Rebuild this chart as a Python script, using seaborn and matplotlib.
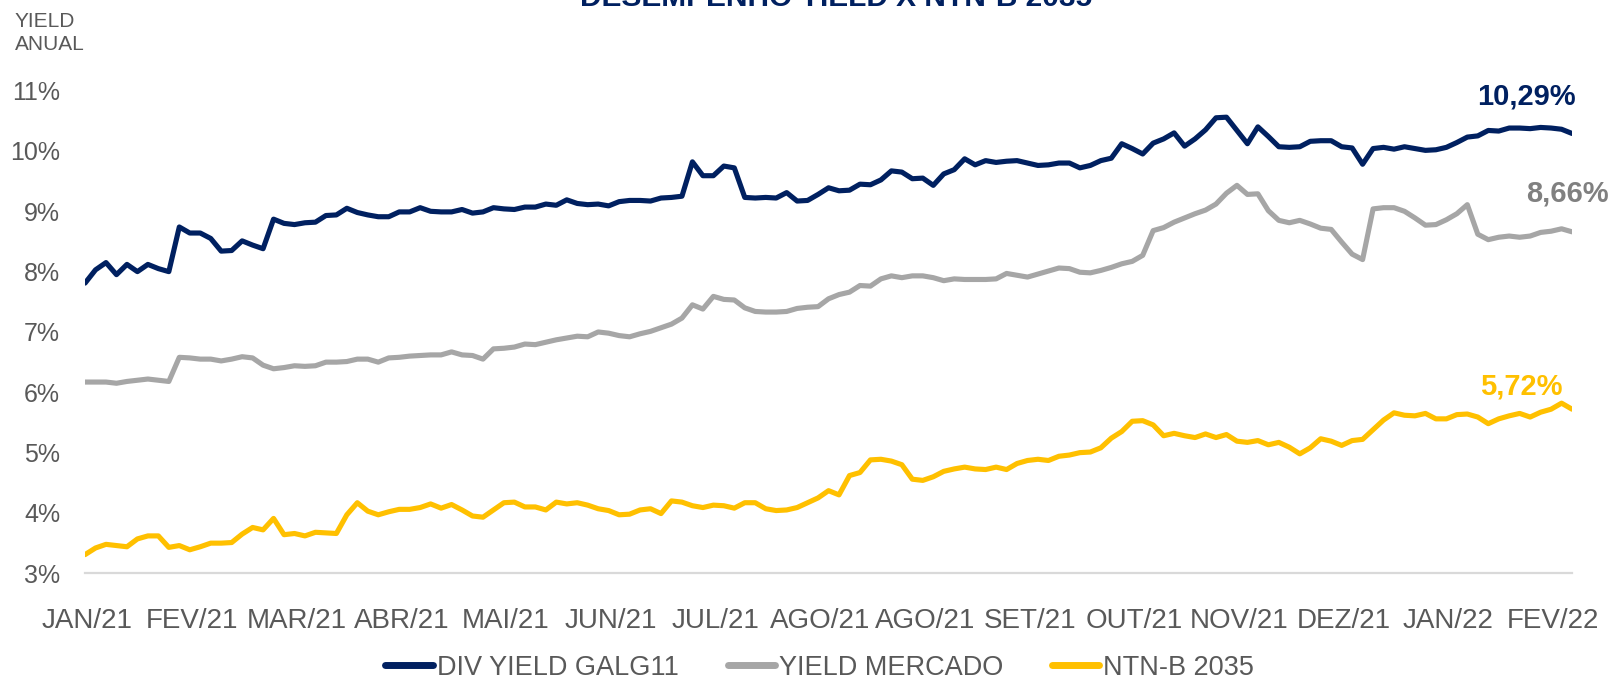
import numpy as np
import pandas as pd
import matplotlib
matplotlib.use("Agg")
import matplotlib.pyplot as plt
from matplotlib import font_manager
import seaborn as sns

# ---------------- data ----------------
months = ["JAN/21", "FEV/21", "MAR/21", "ABR/21", "MAI/21", "JUN/21", "JUL/21",
          "AGO/21", "AGO/21", "SET/21", "OUT/21", "NOV/21", "DEZ/21", "JAN/22", "FEV/22"]

series_names = ["DIV YIELD GALG11", "YIELD MERCADO", "NTN-B 2035"]

div_yield = [7.81, 8.03, 8.15, 7.95, 8.12, 8.00, 8.12, 8.05, 8.00, 8.74,
             8.64, 8.64, 8.55, 8.34, 8.35, 8.51, 8.44, 8.38, 8.87, 8.80,
             8.78, 8.81, 8.82, 8.93,
             8.94, 9.05, 8.98, 8.94, 8.91, 8.91, 8.99, 8.99, 9.06, 9.00,
             8.99, 8.99, 9.03, 8.97, 8.99, 9.06, 9.04, 9.03, 9.07, 9.07,
             9.12, 9.10, 9.19, 9.13,
             9.11, 9.12, 9.09, 9.16, 9.18, 9.18, 9.17, 9.22, 9.23, 9.25,
             9.82, 9.59, 9.59, 9.75, 9.72, 9.23, 9.22, 9.23, 9.22, 9.31,
             9.17, 9.18, 9.28, 9.39,
             9.34, 9.35, 9.45, 9.44, 9.52, 9.67, 9.65, 9.54, 9.55, 9.43,
             9.62, 9.69, 9.87, 9.77, 9.84, 9.81, 9.83, 9.84, 9.80, 9.76,
             9.77, 9.80, 9.80, 9.72,
             9.76, 9.84, 9.88, 10.12, 10.04, 9.95, 10.13, 10.20, 10.30, 10.08,
             10.20, 10.35, 10.55, 10.56, 10.34, 10.12, 10.40, 10.24, 10.07, 10.06,
             10.07, 10.16, 10.17,
             10.17, 10.07, 10.05, 9.78, 10.04, 10.06, 10.03, 10.07, 10.04, 10.01,
             10.02, 10.06, 10.14, 10.23, 10.25, 10.34, 10.33, 10.38, 10.38, 10.37,
             10.39, 10.38, 10.36, 10.29]

yield_mercado = [6.17, 6.17, 6.17, 6.15, 6.18, 6.20, 6.22, 6.20, 6.18, 6.58,
                 6.57, 6.55, 6.55, 6.52, 6.55, 6.59, 6.57, 6.45, 6.39, 6.41,
                 6.44, 6.43, 6.44, 6.50,
                 6.50, 6.51, 6.55, 6.55, 6.50, 6.57, 6.58, 6.60, 6.61, 6.62,
                 6.62, 6.67, 6.62, 6.61, 6.55, 6.72, 6.73, 6.75, 6.80, 6.79,
                 6.83, 6.87, 6.90, 6.93,
                 6.92, 7.00, 6.98, 6.94, 6.92, 6.97, 7.01, 7.07, 7.13, 7.23,
                 7.45, 7.38, 7.59, 7.54, 7.53, 7.40, 7.34, 7.33, 7.33, 7.34,
                 7.39, 7.41, 7.42, 7.55,
                 7.62, 7.66, 7.77, 7.76, 7.88, 7.93, 7.90, 7.93, 7.93, 7.90,
                 7.85, 7.88, 7.87, 7.87, 7.87, 7.88, 7.97, 7.94, 7.91, 7.96,
                 8.01, 8.06, 8.05, 7.99,
                 7.98, 8.02, 8.07, 8.13, 8.17, 8.27, 8.68, 8.73, 8.82, 8.89,
                 8.96, 9.02, 9.12, 9.30, 9.43, 9.28, 9.29, 9.01, 8.85, 8.81,
                 8.85, 8.79, 8.72,
                 8.70, 8.49, 8.29, 8.20, 9.04, 9.06, 9.06, 9.00, 8.89, 8.77,
                 8.78, 8.86, 8.96, 9.11, 8.62, 8.53, 8.57, 8.59, 8.57, 8.59,
                 8.65, 8.67, 8.71, 8.66]

ntnb_2035 = [3.31, 3.42, 3.48, 3.46, 3.44, 3.57, 3.62, 3.62, 3.43, 3.46,
             3.39, 3.44, 3.50, 3.50, 3.51, 3.65, 3.76, 3.72, 3.91, 3.64,
             3.66, 3.62, 3.68, 3.67,
             3.66, 3.97, 4.17, 4.03, 3.97, 4.02, 4.06, 4.06, 4.09, 4.15,
             4.08, 4.14, 4.05, 3.95, 3.93, 4.05, 4.17, 4.18, 4.10, 4.10,
             4.05, 4.18, 4.15, 4.17,
             4.13, 4.07, 4.04, 3.97, 3.98, 4.05, 4.07, 3.99, 4.20, 4.18,
             4.12, 4.09, 4.13, 4.12, 4.08, 4.17, 4.17, 4.07, 4.04, 4.05,
             4.09, 4.17, 4.25, 4.37,
             4.30, 4.62, 4.67, 4.88, 4.89, 4.86, 4.80, 4.56, 4.54, 4.60,
             4.69, 4.73, 4.76, 4.73, 4.72, 4.76, 4.72, 4.82, 4.87, 4.89,
             4.87, 4.94, 4.96, 5.00,
             5.01, 5.08, 5.24, 5.35, 5.52, 5.53, 5.46, 5.28, 5.32, 5.28,
             5.25, 5.31, 5.25, 5.30, 5.19, 5.17, 5.20, 5.13, 5.17, 5.09,
             4.98, 5.08, 5.23,
             5.19, 5.12, 5.20, 5.22, 5.38, 5.54, 5.66, 5.62, 5.61, 5.65,
             5.56, 5.56, 5.63, 5.64, 5.59, 5.48, 5.56, 5.61, 5.65, 5.59,
             5.67, 5.72, 5.82, 5.72]

end_labels = ["10,29%", "8,66%", "5,72%"]
y_ticks = [3, 4, 5, 6, 7, 8, 9, 10, 11]

# ---------------- style ----------------
NAVY = "#002060"
GRAY = "#A6A6A6"
YELLOW = "#FFC000"
TXT = "#595959"
palette = {series_names[0]: NAVY, series_names[1]: GRAY, series_names[2]: YELLOW}

sns.set_theme(style="white")
names = {f.name for f in font_manager.fontManager.ttflist}
narrow = "Liberation Sans Narrow" in names
base_font = "Liberation Sans Narrow" if narrow else "Liberation Sans"
plt.rcParams["font.family"] = [base_font, "DejaVu Sans"]
k = 1 / 0.82 if narrow else 1.0

n = len(div_yield)
df = pd.DataFrame({
    "idx": np.tile(np.arange(n), 3),
    "value": np.concatenate([div_yield, yield_mercado, ntnb_2035]),
    "serie": np.repeat(series_names, n),
})

fig = plt.figure(figsize=(16.14, 6.83), dpi=100)
ax = fig.add_axes([0.0527, 0.1606, 0.974 - 0.0527, 0.8673 - 0.1606])

sns.lineplot(data=df, x="idx", y="value", hue="serie", hue_order=series_names,
             palette=palette, linewidth=3.7, ax=ax, errorbar=None, legend=False)

ax.set_xlim(0, n - 1)
ax.set_ylim(3, 11)
ax.set_xlabel("")
ax.set_ylabel("")

ax.set_xticks(np.arange(len(months)) * 10 + 0.2)
ax.set_xticklabels(months)
ax.set_yticks(y_ticks)
ax.set_yticklabels([f"{v}%" for v in y_ticks])
ax.tick_params(axis="x", length=0, pad=25, labelsize=20 * k, labelcolor=TXT)
ax.tick_params(axis="y", length=0, pad=18, labelsize=18 * k, labelcolor=TXT)
ax.grid(False)

for s in ["top", "right", "left"]:
    ax.spines[s].set_visible(False)
ax.spines["bottom"].set_color("#D9D9D9")
ax.spines["bottom"].set_linewidth(1.6)

# end-of-series labels
bold = ["Liberation Sans", "DejaVu Sans"]
last = [div_yield[-1], yield_mercado[-1], ntnb_2035[-1]]
label_colors = [NAVY, "#808080", YELLOW]
dx = [-4.4, -0.4, -4.8]
dy = [0.62, 0.63, 0.38]
for lab, val, c, ox, oy in zip(end_labels, last, label_colors, dx, dy):
    ax.text(n - 1 + ox, val + oy, lab, color=c, fontsize=21, fontweight="bold",
            family=bold, ha="center", va="center", clip_on=False)

# axis title and chart title
fig.text(15 / 1614, 1 - 33 / 683, "YIELD\nANUAL", color=TXT, fontsize=15 * k,
         ha="left", va="center", linespacing=1.3)
fig.text(836 / 1614, 1 - 6 / 683, "DESEMPENHO YIELD X NTN-B 2035", color=NAVY,
         fontsize=21.5, fontweight="bold", family=bold, ha="center", va="baseline")

# legend
handles = ax.get_lines()[:3]
leg = fig.legend(handles, series_names, loc="center", bbox_to_anchor=(0.508, 0.022),
                 ncol=3, frameon=False, fontsize=19.5 * k, handlelength=1.75,
                 handletextpad=0.15, columnspacing=1.8, borderpad=0.1)
for t in leg.get_texts():
    t.set_color(TXT)
for h in leg.legend_handles:
    h.set_linewidth(5)

fig.savefig("out.png", dpi=100, facecolor="white")
